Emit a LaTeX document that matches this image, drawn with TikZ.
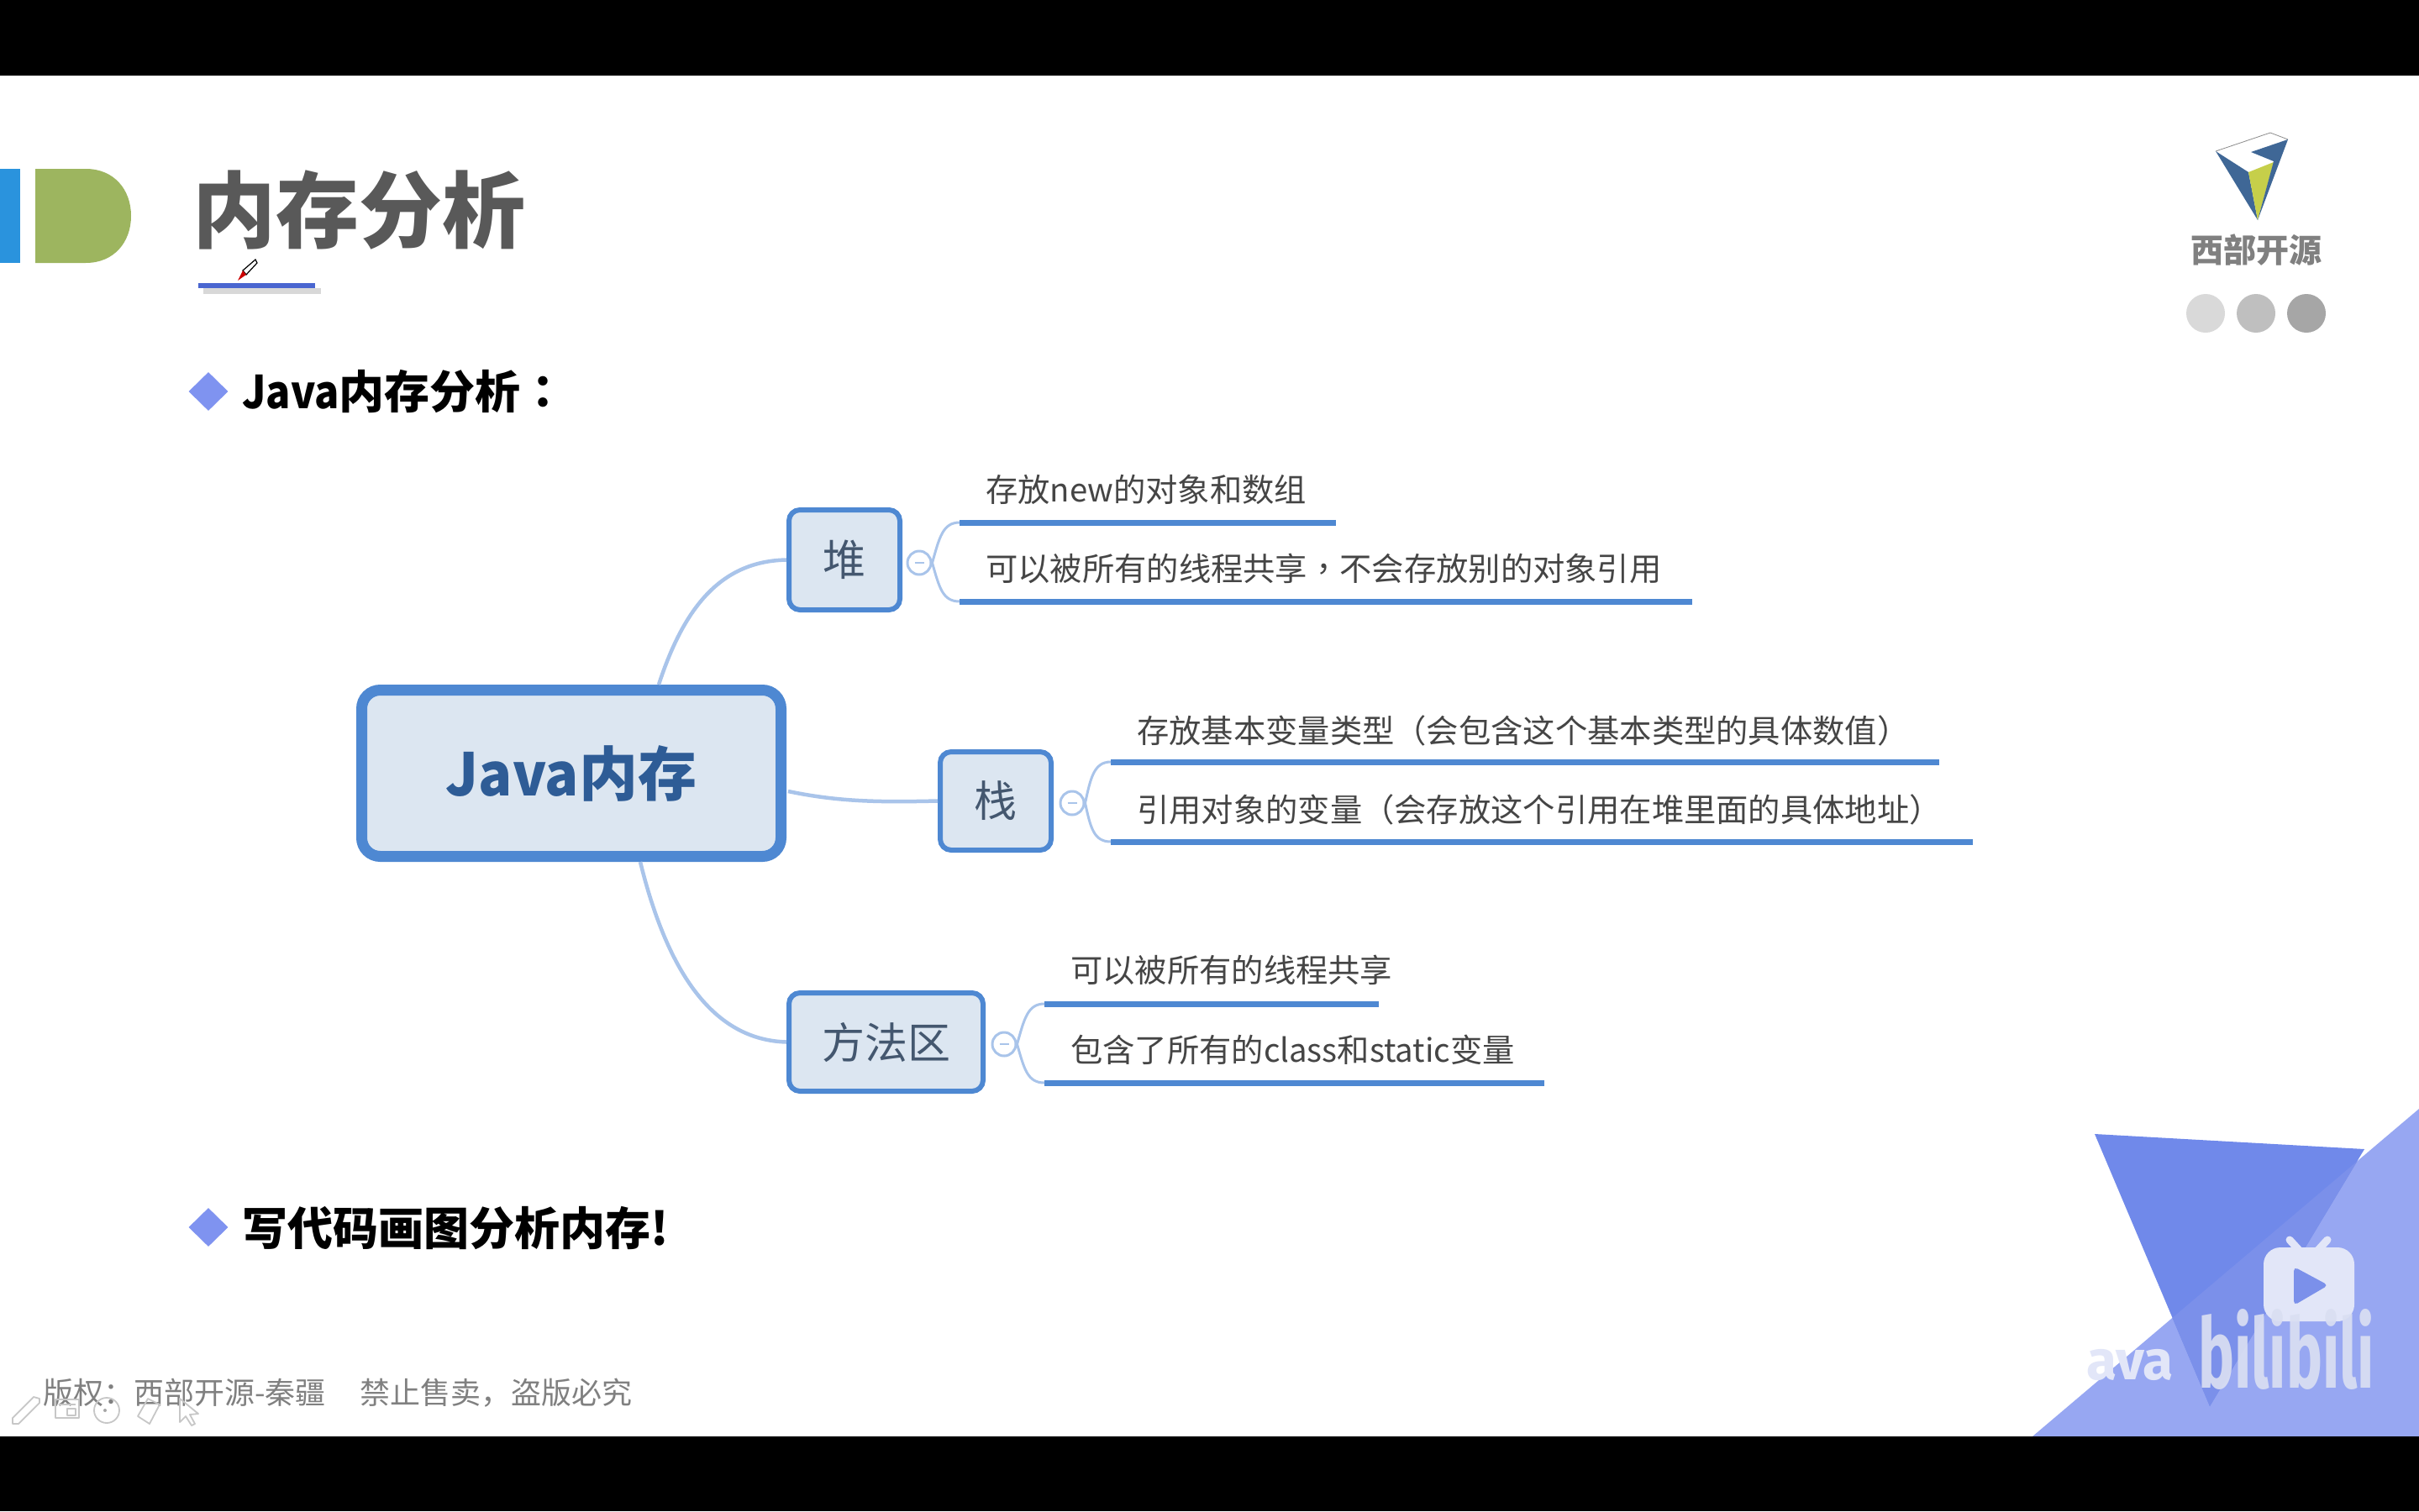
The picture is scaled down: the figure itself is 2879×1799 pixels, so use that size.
\documentclass[tikz,border=0pt]{standalone}
\usepackage{fontspec}
\usepackage{graphicx}
\setmainfont{Noto Sans CJK SC}
\newfontfamily\tcpunct{Noto Sans CJK TC}
\newfontfamily\latfont{Fira Sans}
\usetikzlibrary{shapes.geometric}
\definecolor{nodeedge}{HTML}{4E88D2}
\definecolor{nodefill}{HTML}{DCE6F1}
\definecolor{linkblue}{HTML}{A9C4EA}
\definecolor{leaftext}{HTML}{454545}
\definecolor{nodetext}{HTML}{44576F}
\definecolor{maintext}{HTML}{2E5C96}
\definecolor{lightblue}{HTML}{97A7F2}
\definecolor{darkblue}{HTML}{7089EA}
\definecolor{midblue}{HTML}{7B90EA}
\definecolor{markblue}{HTML}{7F93F0}
\definecolor{logoblue}{HTML}{3F6796}
\definecolor{logoyellow}{HTML}{C6CF4A}
\definecolor{wmark}{HTML}{E2E6F8}
\definecolor{wmarkb}{HTML}{DADFF2}
\definecolor{barblue}{HTML}{2A93DD}
\definecolor{bargreen}{HTML}{9DB55F}
\definecolor{ulblue}{HTML}{4A66D0}
\newcommand{\fsz}[1]{\fontsize{#1}{#1}\selectfont}
\newcommand{\pc}[1]{{\tcpunct #1}}
\tikzset{
  mainnode/.style={draw=nodeedge,fill=nodefill,line width=13pt,rounded corners=22pt,inner sep=0pt},
  subnode/.style={draw=nodeedge,fill=nodefill,line width=6pt,rounded corners=13pt,inner sep=0pt,font=\fsz{51},text=nodetext},
  leaf/.style={anchor=west,inner sep=0pt,font=\fsz{38.3},text=leaftext},
  leafline/.style={draw=nodeedge,line width=7pt},
  link/.style={draw=linkblue,line width=4.5pt},
  fork/.style={draw=linkblue,line width=3pt},
  toggle/.style={circle,draw=linkblue,line width=3pt,minimum size=28pt,inner sep=0pt,fill=white},
  bullet/.style={diamond,fill=markblue,minimum width=47pt,minimum height=46pt,inner sep=0pt},
  heading/.style={anchor=west,inner sep=0pt,font=\fsz{54}\bfseries,text=black},
  dot/.style={circle,minimum size=46pt,inner sep=0pt},
  toolicon/.style={draw=black!22,line width=1.8pt,line join=round},
  antenna/.style={draw=wmark,line width=9pt,line cap=round}
}
\begin{document}
\begin{tikzpicture}[x=1pt,y=-1pt]
\useasboundingbox (0,0) rectangle (2879,1799);
\fill[white] (0,0) rectangle (2879,1799);

% corner triangles
\fill[lightblue] (2879,1320) -- (2419,1710) -- (2879,1710) -- cycle;
\fill[darkblue] (2493,1350) -- (2814,1368) -- (2630,1674) -- cycle;
\begin{scope}
  \clip (2879,1320) -- (2419,1710) -- (2879,1710) -- cycle;
  \fill[midblue] (2493,1350) -- (2814,1368) -- (2630,1674) -- cycle;
\end{scope}

% black bars
\fill[black] (0,0) rectangle (2879,90);
\fill[black] (0,1710) rectangle (2879,1799);

% header mark
\fill[barblue] (0,201) rectangle (24,313);
\fill[bargreen] (42,201) -- (102,201) .. controls (136,201) and (156,226) .. (156,257) .. controls (156,288) and (136,313) .. (102,313) -- (42,313) -- cycle;

\node[anchor=west,inner sep=0pt,text=black!65,font=\fsz{99}\bfseries] (title) at (229,250) {内存分析};

\fill[black!30,opacity=.5] (242,343) rectangle (382,350);
\fill[ulblue] (236,337) rectangle (375,343);
% pen
\draw[black,line width=1.2pt,fill=white] (289,322) -- (304,309) -- (306,313) -- (293,327) -- cycle;
\fill[red!80!black] (283,334) -- (289,322) -- (293,327) -- cycle;

% logo
\fill[white] (2637,180) -- (2702,158) -- (2723,166) -- (2687,262) -- cycle;
\draw[black!45,line width=.8pt] (2637,180) -- (2702,158) -- (2723,166);
\fill[logoblue] (2637,180) -- (2676,205) -- (2687,262) -- cycle;
\fill[logoyellow] (2676,205) -- (2706,193) -- (2687,262) -- cycle;
\fill[logoblue] (2723,166) -- (2679,181) -- (2706,192) -- (2687,262) -- cycle;
\node[inner sep=0pt,text=black!50,font=\fsz{39}\bfseries] (brand) at (2685,298) {西部开源};
\node[dot,fill=black!15] (d1) at (2625,373) {};
\node[dot,fill=black!25] (d2) at (2685,373) {};
\node[dot,fill=black!35] (d3) at (2745,373) {};

% headings
\node[bullet] (b1) at (248,466) {};
\node[heading] (h1) at (288,466) {\scalebox{.9}[1]{Java}内存分析\pc{：}};
\node[bullet] (b2) at (248,1461) {};
\node[heading] (h2) at (288,1462) {写代码画图分析内存!};

% mind map nodes
\node[mainnode,minimum width=499pt,minimum height=198pt,font=\fsz{70}\bfseries,text=maintext] (main) at (680,920.5) {\scalebox{.95}[1]{Java}内存};
\node[subnode,minimum width=132pt,minimum height=119pt] (heap) at (1005,666.5) {堆};
\node[subnode,minimum width=132pt,minimum height=117pt] (stack) at (1185,953.5) {栈};
\node[subnode,minimum width=231pt,minimum height=117pt] (method) at (1054.5,1240.5) {方法区};

\coordinate (mtop) at (784,815);
\coordinate (mright) at (938,942);
\coordinate (mbot) at (762,1026);
\draw[link] (mtop) .. controls (815,720) and (860,668) .. (heap.west);
\draw[link] (mright) .. controls (1000,955) and (1050,955) .. (stack.west);
\draw[link] (mbot) .. controls (795,1160) and (850,1238) .. (method.west);

\node[toggle] (t1) at (1094,670) {\tikz[x=1pt,y=1pt]\draw[linkblue,line width=2pt] (0,0)--(11,0);};
\node[toggle] (t2) at (1276,956) {\tikz[x=1pt,y=1pt]\draw[linkblue,line width=2pt] (0,0)--(11,0);};
\node[toggle] (t3) at (1195,1243) {\tikz[x=1pt,y=1pt]\draw[linkblue,line width=2pt] (0,0)--(11,0);};

% leaves: heap
\node[leaf] (l11) at (1173,583) {存放new的对象和数组};
\node[leaf] (l12) at (1173,677) {可以被所有的线程共享\pc{，}不会存放别的对象引用};
\coordinate (a11) at (1142,622); \coordinate (e11) at (1590,622);
\coordinate (a12) at (1142,716); \coordinate (e12) at (2014,716);
\draw[leafline] (a11) -- (e11);
\draw[leafline] (a12) -- (e12);
\draw[fork] (t1.east) .. controls (1118,640) and (1122,622) .. (a11);
\draw[fork] (t1.east) .. controls (1118,700) and (1122,716) .. (a12);

% leaves: stack
\node[leaf] (l21) at (1353,870) {存放基本变量类型\pc{（}会包含这个基本类型的具体数值\pc{）}};
\node[leaf] (l22) at (1353,964) {引用对象的变量\pc{（}会存放这个引用在堆里面的具体地址\pc{）}};
\coordinate (a21) at (1322,907); \coordinate (e21) at (2308,907);
\coordinate (a22) at (1322,1002); \coordinate (e22) at (2348,1002);
\draw[leafline] (a21) -- (e21);
\draw[leafline] (a22) -- (e22);
\draw[fork] (t2.east) .. controls (1298,926) and (1302,907) .. (a21);
\draw[fork] (t2.east) .. controls (1298,986) and (1302,1002) .. (a22);

% leaves: method area
\node[leaf] (l31) at (1274,1155) {可以被所有的线程共享};
\node[leaf] (l32) at (1274,1250) {包含了所有的class和static变量};
\coordinate (a31) at (1243,1195); \coordinate (e31) at (1641,1195);
\coordinate (a32) at (1243,1289); \coordinate (e32) at (1838,1289);
\draw[leafline] (a31) -- (e31);
\draw[leafline] (a32) -- (e32);
\draw[fork] (t3.east) .. controls (1219,1213) and (1223,1195) .. (a31);
\draw[fork] (t3.east) .. controls (1219,1273) and (1223,1289) .. (a32);

% footer
\node[anchor=west,inner sep=0pt,text=black!50,font=\fsz{36}] (foot) at (51,1658) {版权：西部开源-秦疆\hspace{41pt}禁止售卖，盗版必究};

% toolbar icons
\draw[toolicon] (15,1695) -- (15,1688) -- (40,1663) -- (47,1665) -- (47,1670) -- (22,1695) -- cycle;
\draw[toolicon] (66,1666) rectangle (94,1688);
\draw[toolicon] (70,1672) -- (90,1672);
\draw[toolicon] (80,1677) rectangle (90,1685);
\draw[toolicon] (127,1679) ellipse [x radius=15pt,y radius=15pt];
\fill[black!35] (125,1679) circle (2pt);
\draw[toolicon] (176,1665) -- (190,1672) -- (178,1695) -- (164,1686) -- cycle;
\draw[toolicon] (214,1665) -- (214,1693) -- (221,1686) -- (228,1697) -- (232,1695) -- (226,1684) -- (236,1683) -- cycle;

% watermark
\node[anchor=east,inner sep=0pt,text=wmark,font=\fsz{66}\latfont\bfseries] (wm) at (2587,1625) {ava};
\draw[antenna] (2725,1476) -- (2736,1488);
\draw[antenna] (2770,1476) -- (2759,1488);
\node[draw=none,fill=wmark,rounded corners=20pt,minimum width=108pt,minimum height=88pt,inner sep=0pt] (tv) at (2748,1529) {};
\fill[midblue,rounded corners=5pt] (2730,1508) -- (2771,1530) -- (2730,1554) -- cycle;
\node[inner sep=0pt,text=wmarkb,opacity=.92] (bili) at (2721,1606) {\resizebox{210pt}{94pt}{\latfont\bfseries bilibili}};
\end{tikzpicture}
\end{document}
